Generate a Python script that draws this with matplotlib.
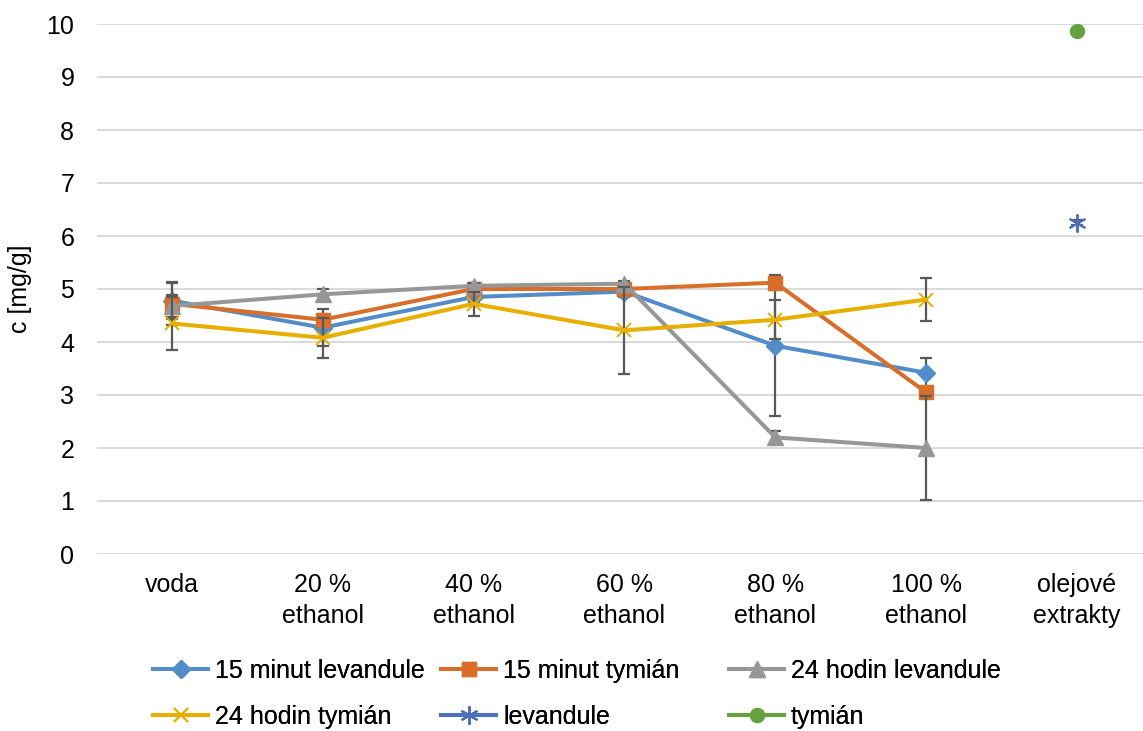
import matplotlib.pyplot as plt
import numpy as np

plt.rcParams['font.family'] = ['Liberation Sans', 'DejaVu Sans']

# data
categories = ['voda', '20 %\nethanol', '40 %\nethanol', '60 %\nethanol',
              '80 %\nethanol', '100 %\nethanol', 'olejové\nextrakty']
nan = np.nan
lev_15 = [4.78, 4.27, 4.85, 4.95, 3.93, 3.42, nan]
lev_15_err = [0.35, 0.35, 0.10, 0.10, 1.32, 0.27, nan]
tym_15 = [4.72, 4.42, 5.00, 5.00, 5.12, 3.05, nan]
tym_15_err = [0.40, 0.10, 0.05, 0.05, 0.14, 0.10, nan]
lev_24 = [4.68, 4.90, 5.06, 5.10, 2.20, 2.00, nan]
lev_24_err = [0.20, 0.10, 0.05, 0.05, 0.12, 0.98, nan]
tym_24 = [4.35, 4.08, 4.72, 4.22, 4.42, 4.80, nan]
tym_24_err = [0.50, 0.38, 0.22, 0.82, 0.37, 0.40, nan]
lev_oil = [nan, nan, nan, nan, nan, nan, 6.25]
lev_oil_err = [nan, nan, nan, nan, nan, nan, 0.05]
tym_oil = [nan, nan, nan, nan, nan, nan, 9.87]
tym_oil_err = [nan, nan, nan, nan, nan, nan, 0.02]

series = [
    ('15 minut levandule', lev_15, lev_15_err, '#538DC9', 'D', 9),
    ('15 minut tymián', tym_15, tym_15_err, '#D96E2B', 's', 10),
    ('24 hodin levandule', lev_24, lev_24_err, '#979797', '^', 11),
    ('24 hodin tymián', tym_24, tym_24_err, '#E8AE00', 'x', 10),
    ('levandule', lev_oil, lev_oil_err, '#4A6FBF', (6, 2, 0), 13),
    ('tymián', tym_oil, tym_oil_err, '#66A13F', 'o', 10),
]

fig = plt.figure(figsize=(11.43, 7.31), dpi=100)
ax = fig.add_axes([96.5 / 1143, 177 / 731, 1 - 96.5 / 1143, 530 / 731])

x = np.arange(len(categories))
handles = []
for i, (name, vals, errs, col, mk, ms) in enumerate(series):
    ax.errorbar(x, vals, yerr=errs, fmt='none', ecolor='#595959',
                elinewidth=1.6, capsize=4.5, capthick=1.6, zorder=3 + i)
    h, = ax.plot(x, vals, color=col, lw=2.9, marker=mk, markersize=ms,
                 markeredgewidth=1.4 if mk in ('x', (6, 2, 0)) else 1,
                 markeredgecolor=col, label=name, zorder=3 + i)
    handles.append(h)

ax.set_xlim(-0.5, 6.438)
ax.set_ylim(0, 10)
ax.set_yticks(range(0, 11))
ax.set_xticks(x)
ax.set_xticklabels(categories, fontsize=18, linespacing=1.32)
ax.tick_params(axis='y', labelsize=18, length=0, pad=16)
ax.tick_params(axis='x', length=0, pad=14)
ax.grid(axis='y', color='#D9D9D9', lw=1.4)
ax.set_axisbelow(True)
for s in ax.spines.values():
    s.set_visible(False)
ax.set_ylabel('c [mg/g]', fontsize=18)
ax.yaxis.set_label_coords(-0.062, 0.5)

# legend: equal-width columns, filled row by row
col_x = [153, 441, 729]
for c in range(3):
    idx = [c, c + 3]
    leg = fig.legend([handles[k] for k in idx], [series[k][0] for k in idx],
                     loc='center left',
                     bbox_to_anchor=(col_x[c] / 1143, 1 - 694 / 731),
                     frameon=False, fontsize=18, handlelength=2.2,
                     handletextpad=0.28, labelspacing=0.87,
                     borderpad=0, borderaxespad=0)
    fig.add_artist(leg)

plt.savefig('out.png', dpi=100)
